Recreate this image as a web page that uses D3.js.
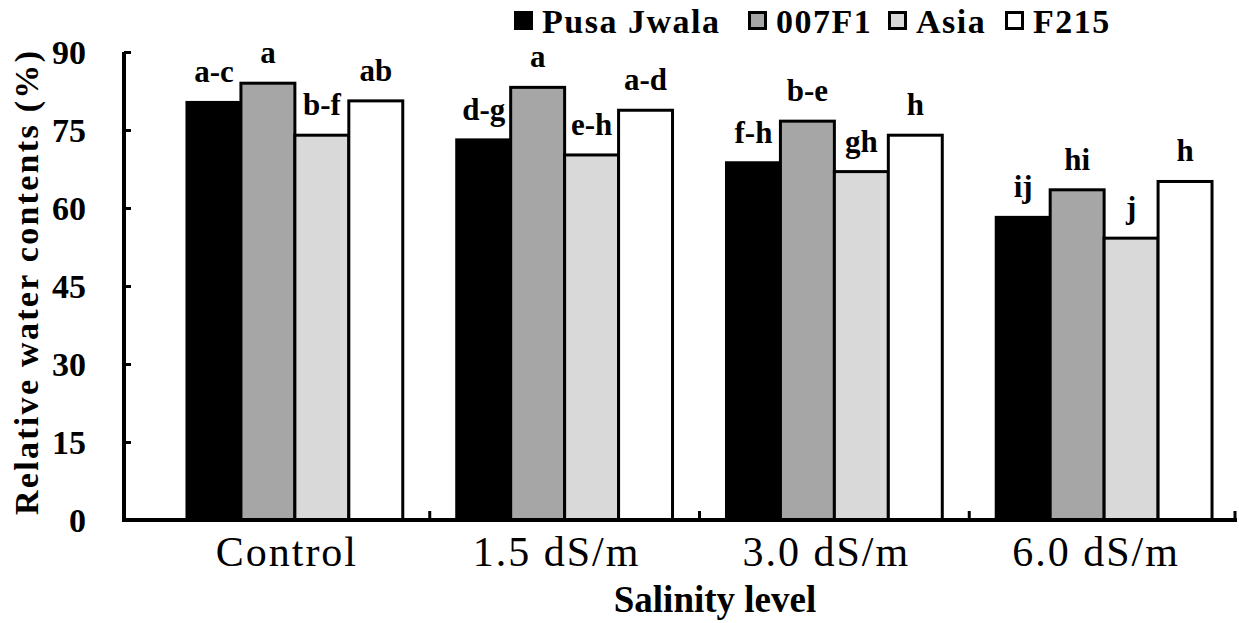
<!DOCTYPE html>
<html>
<head>
<meta charset="utf-8">
<script src="https://cdn.jsdelivr.net/npm/d3@7"></script>
<style>
    body { margin: 0; background: #fff; }
    #view { width: 1239px; height: 623px; }
</style>
</head>
<body>
<div id="view"></div>
<script>
var categories = ["Control", "1.5 dS/m", "3.0 dS/m", "6.0 dS/m"];
var series = ["Pusa Jwala", "007F1", "Asia", "F215"];
var colors = ["#000000", "#a6a6a6", "#d9d9d9", "#ffffff"];
var pusa_jwala = [80.3, 73.1, 68.7, 58.2];
var f007 = [84.0, 83.2, 76.7, 63.5];
var asia = [74.0, 70.2, 67.0, 54.2];
var f215 = [80.6, 78.8, 74.0, 65.1];
var letters_pusa = ["a-c", "d-g", "f-h", "ij"];
var letters_007 = ["a", "a", "b-e", "hi"];
var letters_asia = ["b-f", "e-h", "gh", "j"];
var letters_f215 = ["ab", "a-d", "h", "h"];
var y_ticks = [0, 15, 30, 45, 60, 75, 90];

var FONT = "Liberation Serif";

var draw_chart = {
    view: 0,
    width: 1239,
    height: 623,
    initialize: function() {
        var self = this;
        self.view = d3.select("#view").append("svg")
            .attr("width", self.width)
            .attr("height", self.height);
    },
    label: function(sel, size, bold) {
        return sel.attr("font-family", FONT)
            .attr("font-size", size)
            .attr("font-weight", bold ? "bold" : "normal")
            .attr("fill", "#000");
    },
    draw: function() {
        var self = this;
        var values = [pusa_jwala, f007, asia, f215];
        var letters = [letters_pusa, letters_007, letters_asia, letters_f215];

        var rows = [];
        for (var s = 0; s < series.length; s++) {
            for (var c = 0; c < categories.length; c++) {
                rows.push({ cat: categories[c], name: series[s], s: s, value: values[s][c], letter: letters[s][c] });
            }
        }

        var axis_x = 124, axis_end = 1237;
        var x0 = d3.scaleBand().domain(categories).range([160, 1239]).paddingInner(0.2).paddingOuter(0.1);
        var x1 = d3.scaleBand().domain(series).range([0, x0.bandwidth()]);
        var y = d3.scaleLinear().domain([0, 90]).range([520, 52]);

        // bars
        self.view.append("g")
            .selectAll("rect")
            .data(rows)
            .enter().append("rect")
            .attr("x", function(d) { return x0(d.cat) + x1(d.name); })
            .attr("y", function(d) { return y(d.value); })
            .attr("width", x1.bandwidth())
            .attr("height", function(d) { return y(0) - y(d.value); })
            .attr("fill", function(d) { return colors[d.s]; })
            .attr("stroke", "#000")
            .attr("stroke-width", 3);

        // letters above bars
        self.label(self.view.append("g")
            .selectAll("text")
            .data(rows)
            .enter().append("text"), 31, true)
            .attr("x", function(d) { return x0(d.cat) + x1(d.name) + x1.bandwidth() / 2; })
            .attr("y", function(d) { return y(d.value) - 20; })
            .attr("text-anchor", "middle")
            .text(function(d) { return d.letter; });

        // y axis
        var yAxis = d3.axisLeft(y).tickValues(y_ticks).tickSize(-7).tickPadding(38);
        var gy = self.view.append("g")
            .attr("transform", "translate(" + axis_x + ",0)")
            .call(yAxis);
        gy.select(".domain").remove();
        gy.selectAll(".tick line").attr("stroke", "#000").attr("stroke-width", 3);
        self.label(gy.selectAll(".tick text"), 34, true)
            .attr("dy", "0.35em");
        gy.attr("font-family", FONT).attr("font-size", 34);
        self.view.append("line")
            .attr("x1", axis_x).attr("x2", axis_x)
            .attr("y1", y(90)).attr("y2", y(0) + 2)
            .attr("stroke", "#000").attr("stroke-width", 4);

        // x axis
        self.view.append("line")
            .attr("x1", axis_x - 2).attr("x2", axis_end)
            .attr("y1", y(0)).attr("y2", y(0))
            .attr("stroke", "#000").attr("stroke-width", 4);
        var bounds = [];
        for (var i = 1; i <= categories.length; i++) bounds.push(160 + x0.step() * i);
        self.view.append("g")
            .selectAll("line")
            .data(bounds)
            .enter().append("line")
            .attr("x1", function(d) { return Math.min(d, axis_end - 2); })
            .attr("x2", function(d) { return Math.min(d, axis_end - 2); })
            .attr("y1", y(0)).attr("y2", y(0) - 9)
            .attr("stroke", "#000").attr("stroke-width", 3);

        self.label(self.view.append("g")
            .selectAll("text")
            .data(categories)
            .enter().append("text"), 42, false)
            .attr("x", function(d) { return x0(d) + x0.bandwidth() / 2 - 8; })
            .attr("y", 566)
            .attr("text-anchor", "middle")
            .attr("letter-spacing", 2)
            .text(function(d) { return d; });

        // axis titles
        self.label(self.view.append("text"), 37, true)
            .attr("x", 715).attr("y", 612)
            .attr("text-anchor", "middle")
            .text("Salinity level");
        self.label(self.view.append("text"), 34, true)
            .attr("transform", "translate(38,283) rotate(-90)")
            .attr("text-anchor", "middle")
            .attr("textLength", 464)
            .attr("lengthAdjust", "spacing")
            .text("Relative water contents (%)");

        // legend
        var legend_x = [514, 748, 888, 1005];
        var lg = self.view.append("g")
            .selectAll("g")
            .data(series)
            .enter().append("g")
            .attr("transform", function(d, i) { return "translate(" + legend_x[i] + ",0)"; });
        lg.append("rect")
            .attr("x", 1.5).attr("y", 12.5)
            .attr("width", 16).attr("height", 16)
            .attr("fill", function(d, i) { return colors[i]; })
            .attr("stroke", "#000")
            .attr("stroke-width", 3);
        self.label(lg.append("text"), 34, true)
            .attr("x", 28).attr("y", 33)
            .attr("letter-spacing", 1.5)
            .text(function(d) { return d; });
    }
}

draw_chart.initialize();
draw_chart.draw();
</script>
</body>
</html>
